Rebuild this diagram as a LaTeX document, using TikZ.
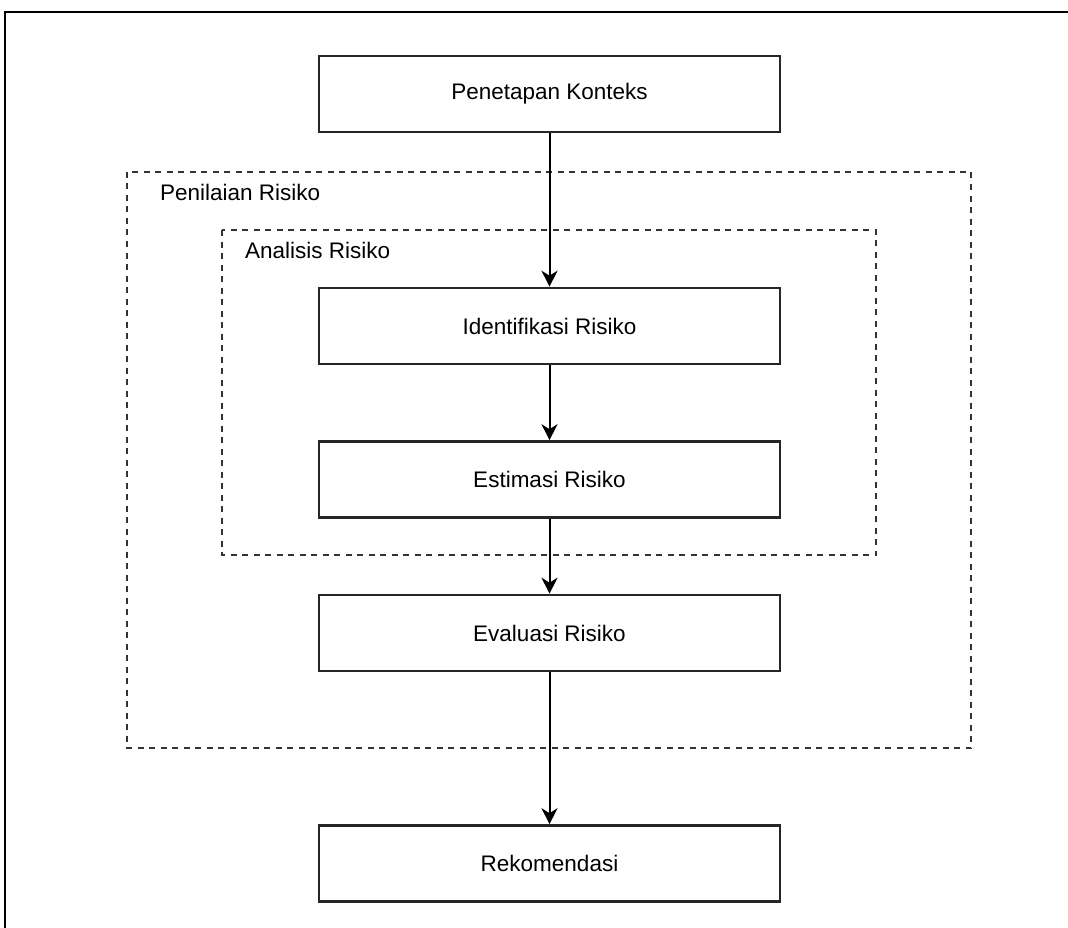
\documentclass[tikz,border=0pt]{standalone}
\usepackage{fontspec}
\setmainfont{Liberation Sans}
\usetikzlibrary{arrows.meta}
\begin{document}
\begin{tikzpicture}[x=1pt,y=-1pt,
  procbox/.style={draw=black!85, line width=2.6pt, minimum width=461pt, minimum height=76pt, inner sep=0pt, font=\fontsize{22.5}{25}\selectfont},
  groupbox/.style={draw=black!80, line width=2.4pt, dash pattern=on 6pt off 5.5pt},
  grouplabel/.style={anchor=west, inner sep=0pt, font=\fontsize{22.5}{25}\selectfont},
  flow/.style={draw=black, line width=2pt, -{Stealth[length=16pt,width=16pt,inset=5pt]}}]
\useasboundingbox (0,0) rectangle (1068,928);
\fill[white] (0,0) rectangle (1068,928);
% outer frame
\draw[line width=2.6pt, black] (5,940) -- (5,12) -- (1080,12);
% group boxes
\draw[groupbox] (127,172) rectangle (971,748);
\node[grouplabel] (pen) at (160,192) {Penilaian Risiko};
\draw[groupbox] (222,230) rectangle (876,555);
\node[grouplabel] (ana) at (245,250) {Analisis Risiko};
% process boxes
\node[procbox] (ctx) at (549.5,94) {Penetapan Konteks};
\node[procbox] (idf) at (549.5,326) {Identifikasi Risiko};
\node[procbox] (est) at (549.5,479.5) {Estimasi Risiko};
\node[procbox] (eva) at (549.5,633) {Evaluasi Risiko};
\node[procbox] (rek) at (549.5,863.5) {Rekomendasi};
% connectors
\draw[flow] (ctx) -- (idf);
\draw[flow] (idf) -- (est);
\draw[flow] (est) -- (eva);
\draw[flow] (eva) -- (rek);
\end{tikzpicture}
\end{document}
